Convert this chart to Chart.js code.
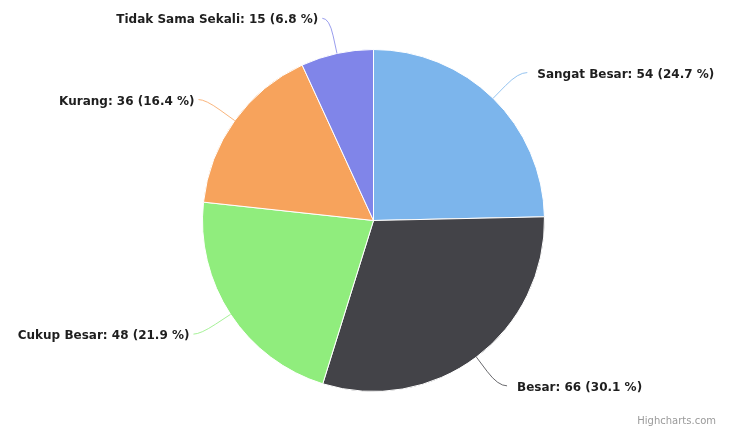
<!DOCTYPE html>
<html>
<head>
<meta charset="utf-8">
<script src="https://cdn.jsdelivr.net/npm/chart.js@4.4.1/dist/chart.umd.min.js"></script>
<style>
  html, body { margin: 0; padding: 0; background: #fff; }
  #wrap { width: 734px; height: 431px; position: relative; }
</style>
</head>
<body>
<div id="wrap"><canvas id="pie"></canvas></div>
<script>
const kategori = ['Sangat Besar', 'Besar', 'Cukup Besar', 'Kurang', 'Tidak Sama Sekali'];
const jumlah = [54, 66, 48, 36, 15];
const persen = [24.7, 30.1, 21.9, 16.4, 6.8];
const warna = ['#7cb5ec', '#434348', '#90ed7d', '#f7a35c', '#8085e9'];

// labels with connector lines, placed from each arc's geometry
const labelPie = {
  id: 'labelPie',
  afterDatasetsDraw(chart) {
    const ctx = chart.ctx;
    const arcs = chart.getDatasetMeta(0).data;
    ctx.save();
    ctx.font = 'bold 12px "DejaVu Sans", Verdana, sans-serif';
    ctx.textBaseline = 'middle';
    arcs.forEach((arc, i) => {
      const mid = (arc.startAngle + arc.endAngle) / 2;
      const r = arc.outerRadius;
      const cx = arc.x, cy = arc.y;
      const cos = Math.cos(mid), sin = Math.sin(mid);
      const ex = cx + r * cos, ey = cy + r * sin;
      const ox = cx + (r + 36) * cos, oy = cy + (r + 36) * sin;
      const right = cos >= 0;
      const tx = right ? ox + 19 : ox - 11;   // where the text begins / ends
      const bx = cx + (r + 18) * cos, by = cy + (r + 18) * sin;
      const lx = right ? tx - 10 : tx + 4;
      ctx.strokeStyle = warna[i];
      ctx.globalAlpha = 0.8;
      ctx.lineWidth = 1;
      ctx.beginPath();
      ctx.moveTo(ex, ey);
      ctx.lineTo(bx, by);
      ctx.quadraticCurveTo(ox, oy, lx, oy);
      ctx.stroke();
      ctx.globalAlpha = 1;
      const txt = kategori[i] + ': ' + jumlah[i] + ' (' + persen[i] + ' %)';
      ctx.fillStyle = '#1e1e1e';
      ctx.textAlign = right ? 'left' : 'right';
      ctx.fillText(txt, tx, oy + 2);
    });
    // credits
    ctx.font = '10px "DejaVu Sans", Verdana, sans-serif';
    ctx.fillStyle = '#9a9a9a';
    ctx.textAlign = 'right';
    ctx.textBaseline = 'alphabetic';
    ctx.fillText('Highcharts.com', 716, 424);
    ctx.restore();
  }
};

new Chart(document.getElementById('pie'), {
  type: 'pie',
  data: {
    labels: kategori,
    datasets: [{
      data: jumlah,
      backgroundColor: warna,
      borderColor: '#ffffff',
      borderWidth: 1
    }]
  },
  options: {
    responsive: true,
    maintainAspectRatio: false,
    animation: false,
    layout: { padding: { left: 202, right: 189, top: 49, bottom: 39 } },
    plugins: {
      legend: { display: false },
      tooltip: { enabled: false }
    }
  },
  plugins: [labelPie]
});
</script>
</body>
</html>
